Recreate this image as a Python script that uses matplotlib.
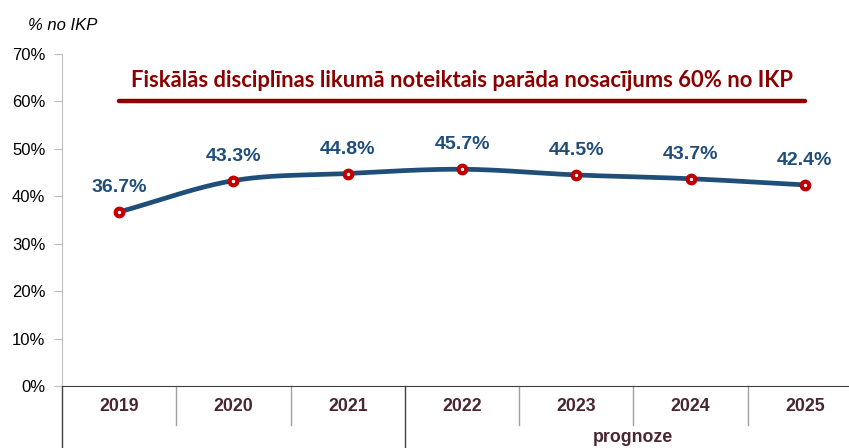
import numpy as np
import matplotlib
matplotlib.use("Agg")
import matplotlib.pyplot as plt
import matplotlib.transforms as mtransforms

years = ["2019", "2020", "2021", "2022", "2023", "2024", "2025"]
debt = [36.7, 43.3, 44.8, 45.7, 44.5, 43.7, 42.4]
limit = 60
limit_text = "Fiskālās disciplīnas likumā noteiktais parāda nosacījums 60% no IKP"
y_ticks = [0, 10, 20, 30, 40, 50, 60, 70]
forecast_label = "prognoze"
forecast_start = 3
unit_label = "% no IKP"

line_color = "#1F4E79"
marker_color = "#C00000"
limit_color = "#8B0000"
year_color = "#4A2632"


def smooth(xs, ys, n=30):
    # Catmull-Rom style smoothing, like Excel's smoothed line
    xs = np.asarray(xs, float)
    ys = np.asarray(ys, float)
    px = np.concatenate([[2 * xs[0] - xs[1]], xs, [2 * xs[-1] - xs[-2]]])
    py = np.concatenate([[2 * ys[0] - ys[1]], ys, [2 * ys[-1] - ys[-2]]])
    out_x, out_y = [], []
    t = np.linspace(0, 1, n)
    for i in range(1, len(px) - 2):
        for P, store in ((px[i - 1:i + 3], out_x), (py[i - 1:i + 3], out_y)):
            a, b, c, d = P
            store.extend(0.5 * ((2 * b) + (-a + c) * t
                                + (2 * a - 5 * b + 4 * c - d) * t ** 2
                                + (-a + 3 * b - 3 * c + d) * t ** 3))
    return out_x, out_y


fig = plt.figure(figsize=(8.49, 4.48), dpi=100)
ax = fig.add_axes([62 / 849, 62 / 448, 800 / 849, 332 / 448])

x = np.arange(len(years))
sx, sy = smooth(x, debt)
ax.plot(sx, sy, color=line_color, lw=3.4, solid_capstyle="round", zorder=3)
ax.plot(x, debt, "o", ms=5.5, mfc="white", mec=marker_color, mew=3, zorder=4)

for xi, v in zip(x, debt):
    ax.annotate(f"{v:.1f}%", (xi, v), xytext=(0, 17.5), textcoords="offset points",
                ha="center", va="center", fontsize=14, fontweight="bold",
                color=line_color, family="Liberation Sans")

ax.plot([0, 6], [limit, limit], color=limit_color, lw=3.2, solid_capstyle="round")
ax.text(3, 64.5, limit_text, ha="center", va="center", fontsize=15.8,
        fontweight="bold", color=limit_color, family="Lato")

ax.set_xlim(-0.5, 6.5)
ax.set_ylim(0, 70)
ax.set_yticks(y_ticks)
ax.set_yticklabels([f"{t}%" for t in y_ticks], fontsize=12, family="Liberation Sans")
ax.tick_params(axis="y", length=6, color="#BFBFBF", pad=6)
ax.set_xticks([])
for s in ("top", "right"):
    ax.spines[s].set_visible(False)
ax.spines["left"].set_color("#BFBFBF")
ax.spines["bottom"].set_color("#404040")

trans = mtransforms.blended_transform_factory(ax.transData, ax.transAxes)
for i in range(len(years) + 1):
    b = i - 0.5
    if i == 0 or i == forecast_start:
        ax.plot([b, b], [0, -0.19], color="#404040", lw=1, transform=trans, clip_on=False)
    else:
        ax.plot([b, b], [0, -0.117], color="#A0A0A0", lw=1, transform=trans, clip_on=False)
for xi, yr in zip(x, years):
    ax.text(xi, -0.063, yr, transform=trans, ha="center", va="center",
            fontsize=12.8, fontweight="bold", color=year_color, family="Liberation Sans")
ax.text((forecast_start - 0.5 + len(years) - 0.5) / 2, -0.154, forecast_label, transform=trans,
        ha="center", va="center", fontsize=12.8, fontweight="bold", color=year_color,
        family="Liberation Sans")

fig.text(28 / 849, 1 - 25 / 448, unit_label, ha="left", va="center", fontsize=12,
         style="italic", family="Liberation Sans")

fig.savefig("out.png", dpi=100)
